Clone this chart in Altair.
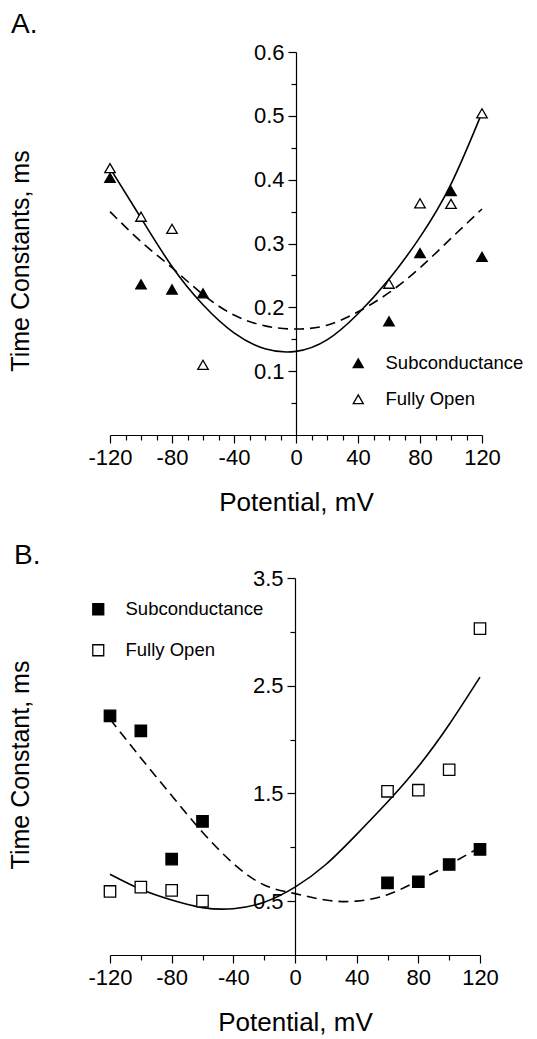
import altair as alt
import pandas as pd

FONT = "Liberation Sans"

# ---------------- data ----------------
potentials = [-120, -100, -80, -60, 60, 80, 100, 120]
series_names = ["Subconductance", "Fully Open"]

# Panel A (triangles)
a_sub = [0.403, 0.236, 0.228, 0.222, 0.178, 0.285, 0.382, 0.279]
a_open = [0.418, 0.342, 0.323, 0.110, 0.237, 0.363, 0.362, 0.504]

# Panel B (squares)
b_sub = [2.22, 2.08, 0.89, 1.24, 0.67, 0.68, 0.84, 0.98]
b_open = [0.59, 0.63, 0.60, 0.50, 1.52, 1.53, 1.72, 3.03]

# fitted curves
curve_v = [-120, -100, -80, -60, -40, -20, 0, 20, 40, 60, 80, 100, 120]
a_fit_solid = [0.418, 0.340, 0.264, 0.204, 0.160, 0.135, 0.131, 0.149, 0.190, 0.244, 0.310, 0.393, 0.505]
a_fit_dashed = [0.350, 0.303, 0.262, 0.220, 0.188, 0.171, 0.166, 0.172, 0.193, 0.223, 0.262, 0.308, 0.354]
b_fit_solid = [0.75, 0.61, 0.51, 0.44, 0.43, 0.49, 0.63, 0.84, 1.12, 1.42, 1.75, 2.14, 2.58]
b_fit_dashed = [2.19, 1.83, 1.48, 1.14, 0.85, 0.65, 0.57, 0.51, 0.50, 0.56, 0.69, 0.84, 1.00]

# axis ticks
a_xticks = list(range(-120, 121, 10))
b_xticks = list(range(-120, 121, 20))
a_yticks = [0.05, 0.1, 0.15, 0.2, 0.25, 0.3, 0.35, 0.4, 0.45, 0.5, 0.55, 0.6]
b_yticks = [0.5, 1.0, 1.5, 2.0, 2.5, 3.0, 3.5]

WA, HA = 372, 383
WB, HB = 370, 377


def points_df(sub, op):
    return pd.DataFrame({
        "V": potentials * 2,
        "tau": sub + op,
        "series": [series_names[0]] * len(sub) + [series_names[1]] * len(op),
    })


def curve_df(vals):
    return pd.DataFrame({"V": curve_v, "tau": vals})


x_label_expr = "datum.value % 40 == 0 ? '' + datum.value : ''"
x_tick_size = {"condition": {"test": "datum.value % 40 == 0", "value": 8}, "value": 5}


def make_panel(letter, ytitle, pts, solid, dashed, w, h, ydom, xticks, yticks, ylabel_expr,
               ytick_test, shape, psize, legend_x, legend_y, legend_rowpad,
               letter_x, letter_y, ytitle_y):
    x_enc = alt.X(
        "V:Q",
        scale=alt.Scale(domain=[-120, 120], nice=False, zero=False),
        axis=alt.Axis(
            values=xticks,
            labelExpr=x_label_expr,
            tickSize=x_tick_size,
            labelPadding=4,
            title="Potential, mV",
            titlePadding=21,
            labelFlush=False,
            labelOverlap=False,
        ),
    )
    y_enc = alt.Y(
        "tau:Q",
        scale=alt.Scale(domain=ydom, nice=False, zero=True),
        axis=alt.Axis(
            orient="left",
            offset=-w / 2,
            values=yticks,
            labelExpr=ylabel_expr,
            tickSize={"condition": {"test": ytick_test, "value": 8}, "value": 5},
            labelPadding=4,
            title=None,
            labelOverlap=False,
        ),
    )
    line_solid = alt.Chart(curve_df(solid)).mark_line(
        color="black", strokeWidth=1.6, interpolate="natural"
    ).encode(x=x_enc, y=y_enc)
    line_dashed = alt.Chart(curve_df(dashed)).mark_line(
        color="black", strokeWidth=1.6, strokeDash=[10, 6], interpolate="natural"
    ).encode(x=x_enc, y=y_enc)
    points = alt.Chart(pts).mark_point(
        shape=shape, size=psize, filled=True, stroke="black", strokeWidth=1.3, opacity=1
    ).encode(
        x=x_enc,
        y=y_enc,
        fill=alt.Fill(
            "series:N",
            scale=alt.Scale(domain=series_names, range=["black", "white"]),
            legend=alt.Legend(
                orient="none",
                legendX=legend_x,
                legendY=legend_y,
                title=None,
                padding=0,
                labelFont=FONT,
                labelFontSize=18.5,
                labelColor="black",
                labelOffset=18,
                rowPadding=legend_rowpad,
                symbolType=shape,
                symbolSize=psize - 10,
                symbolStrokeColor="black",
                symbolStrokeWidth=1.3,
            ),
        ),
    )
    letter_txt = alt.Chart(pd.DataFrame({"t": [letter]})).mark_text(
        align="left", baseline="alphabetic", fontSize=28, font=FONT, color="black"
    ).encode(text="t:N", x=alt.value(letter_x), y=alt.value(letter_y))
    ytitle_txt = alt.Chart(pd.DataFrame({"t": [ytitle]})).mark_text(
        align="center", baseline="middle", angle=270, fontSize=25, font=FONT, color="black"
    ).encode(text="t:N", x=alt.value(-89), y=alt.value(ytitle_y))
    return alt.layer(line_solid, line_dashed, points, letter_txt, ytitle_txt).properties(
        width=w, height=h
    )


panel_a = make_panel(
    "A.", "Time Constants, ms", points_df(a_sub, a_open), a_fit_solid, a_fit_dashed,
    WA, HA, [0, 0.6], a_xticks, a_yticks,
    "abs(datum.value * 10 - round(datum.value * 10)) < 0.001 ? format(datum.value, '.1f') : ''",
    "abs(datum.value * 10 - round(datum.value * 10)) < 0.001",
    "triangle-up", 110, 239, 302, 17, -99, -19, 209,
)

panel_b = make_panel(
    "B.", "Time Constant, ms", points_df(b_sub, b_open), b_fit_solid, b_fit_dashed,
    WB, HB, [0, 3.5], b_xticks, b_yticks,
    "datum.value % 1 == 0.5 ? format(datum.value, '.1f') : ''",
    "datum.value % 1 == 0.5",
    "square", 130, -21, 22, 22, -96, -14, 187,
)

chart = alt.vconcat(panel_a, panel_b, spacing=27).resolve_scale(
    x="independent", y="independent", fill="independent"
).resolve_legend(fill="independent").properties(
    padding={"left": 9, "top": 11, "right": 5, "bottom": 5}
).configure_view(stroke=None).configure_axis(
    labelFont=FONT,
    titleFont=FONT,
    labelFontSize=22,
    titleFontSize=26,
    titleFontWeight="normal",
    labelColor="black",
    titleColor="black",
    domainColor="black",
    tickColor="black",
    domainWidth=1.2,
    tickWidth=1.2,
    grid=False,
)

chart.save("out.html", embed_options={"renderer": "svg", "actions": False})
